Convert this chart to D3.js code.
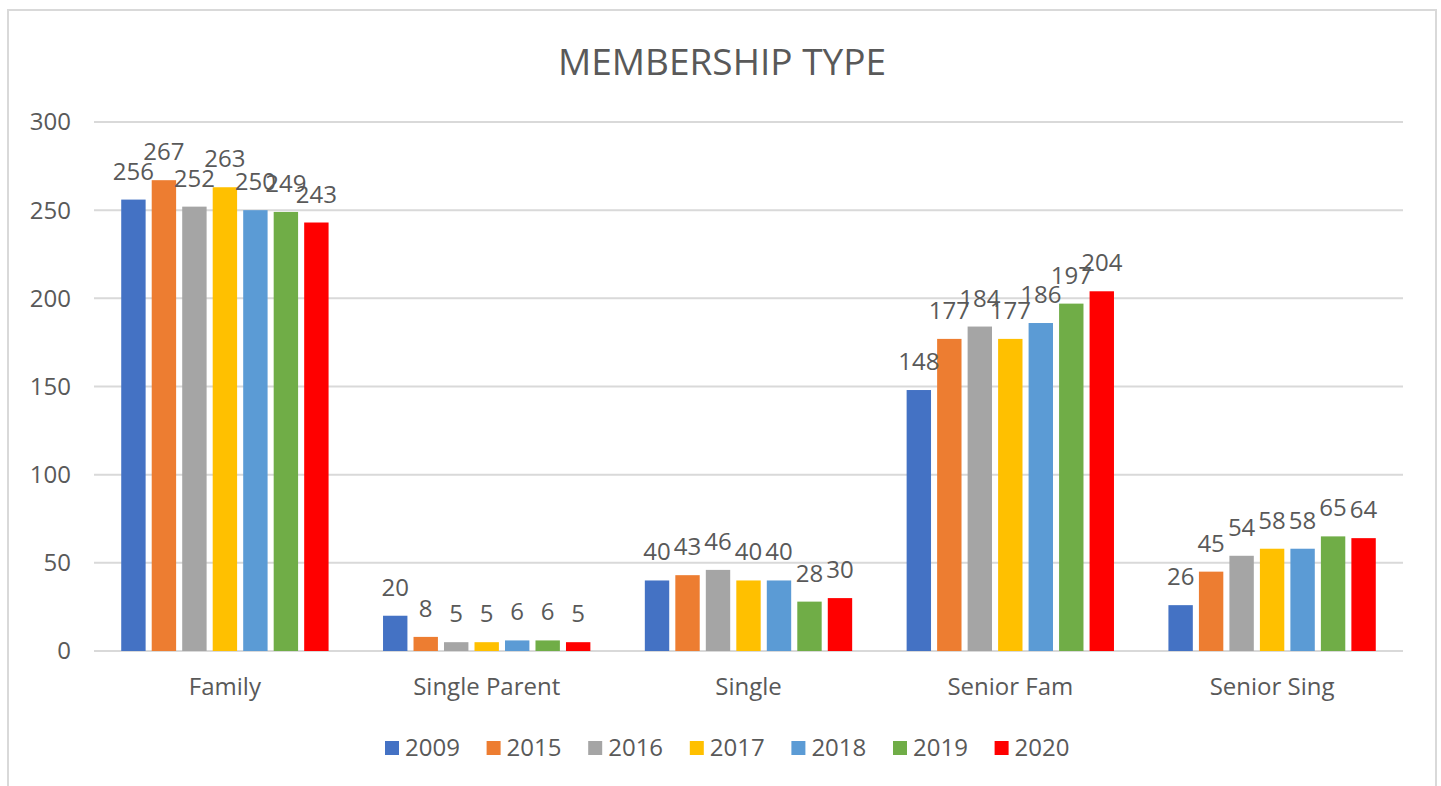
<!DOCTYPE html>
<html>
<head>
<meta charset="utf-8">
<script src="https://cdn.jsdelivr.net/npm/d3@7"></script>
<style>
  html, body { margin: 0; padding: 0; background: #fff; }
  svg { display: block; font-family: "Open Sans", sans-serif; }
  .lbl { fill: #595959; font-size: 24px; }
  .title { fill: #595959; font-size: 37px; }
</style>
</head>
<body>
<div id="chart"></div>
<script>
const categories= ['Family', 'Single Parent', 'Single', 'Senior Fam', 'Senior Sing'];
const years= ['2009', '2015', '2016', '2017', '2018', '2019', '2020'];
const colors= ['#4472C4', '#ED7D31', '#A5A5A5', '#FFC000', '#5B9BD5', '#70AD47', '#FF0000'];
const values2009= [256, 20, 40, 148, 26];
const values2015= [267, 8, 43, 177, 45];
const values2016= [252, 5, 46, 184, 54];
const values2017= [263, 5, 40, 177, 58];
const values2018= [250, 6, 40, 186, 58];
const values2019= [249, 6, 28, 197, 65];
const values2020= [243, 5, 30, 204, 64];
const yTicks= [0, 50, 100, 150, 200, 250, 300];

const seriesVals= [values2009, values2015, values2016, values2017, values2018, values2019, values2020];

const W= 1441, H= 786;
const MAR= { top: 122, right: 38, bottom: 135, left: 94 };

const svg= d3.select('#chart').append('svg')
  .attr('width', W).attr('height', H);

// frame
svg.append('rect')
  .attr('x', 8).attr('y', 10)
  .attr('width', 1428).attr('height', 800)
  .attr('fill', 'none').attr('stroke', '#d9d9d9').attr('stroke-width', 2);

svg.append('text')
  .attr('class', 'title')
  .attr('x', 722).attr('y', 75)
  .attr('text-anchor', 'middle')
  .text('MEMBERSHIP TYPE');

const x0= d3.scaleBand().domain(categories)
  .range([MAR.left, W-MAR.right])
  .paddingInner(0.208).paddingOuter(0.104);
const x1= d3.scaleBand().domain(years)
  .range([0, x0.bandwidth()])
  .paddingInner(0.2).paddingOuter(0);
const y= d3.scaleLinear().domain([0, 300]).range([H-MAR.bottom, MAR.top]);

// gridlines
svg.append('g').selectAll('line').data(yTicks).join('line')
  .attr('x1', MAR.left).attr('x2', W-MAR.right)
  .attr('y1', d => y(d)).attr('y2', d => y(d))
  .attr('stroke', '#d9d9d9').attr('stroke-width', 2);

// y axis labels
svg.append('g').selectAll('text').data(yTicks).join('text')
  .attr('class', 'lbl')
  .attr('x', 71).attr('y', d => y(d))
  .attr('dy', '0.35em')
  .attr('text-anchor', 'end')
  .text(d => d);

// bars
const rows= categories.map((c, i) => ({ cat: c, vals: years.map((yr, j) => ({ yr, j, v: seriesVals[j][i] })) }));
const grp= svg.append('g').selectAll('g').data(rows).join('g')
  .attr('transform', d => `translate(${x0(d.cat)},0)`);

grp.selectAll('rect').data(d => d.vals).join('rect')
  .attr('x', d => x1(d.yr))
  .attr('y', d => y(d.v))
  .attr('width', x1.bandwidth())
  .attr('height', d => y(0)-y(d.v))
  .attr('fill', d => colors[d.j]);

// data labels (overlaps like 250/249 exist in the original too)
grp.selectAll('text').data(d => d.vals).join('text')
  .attr('class', 'lbl')
  .attr('x', d => x1(d.yr)+x1.bandwidth()/2)
  .attr('y', d => y(d.v)-20)
  .attr('text-anchor', 'middle')
  .text(d => d.v);

// x axis labels
svg.append('g').selectAll('text').data(categories).join('text')
  .attr('class', 'lbl')
  .attr('x', d => x0(d)+x0.bandwidth()/2)
  .attr('y', 695)
  .attr('text-anchor', 'middle')
  .text(d => d);

// legend
const lgX= 385, lgStep= 101.6;
const lg= svg.append('g').selectAll('g').data(years).join('g')
  .attr('transform', (d, i) => `translate(${lgX+i*lgStep},741)`);
lg.append('rect')
  .attr('width', 14).attr('height', 14)
  .attr('fill', (d, i) => colors[i]);
lg.append('text')
  .attr('class', 'lbl')
  .attr('x', 20).attr('y', 7)
  .attr('dy', '0.35em')
  .text(d => d);
</script>
</body>
</html>
